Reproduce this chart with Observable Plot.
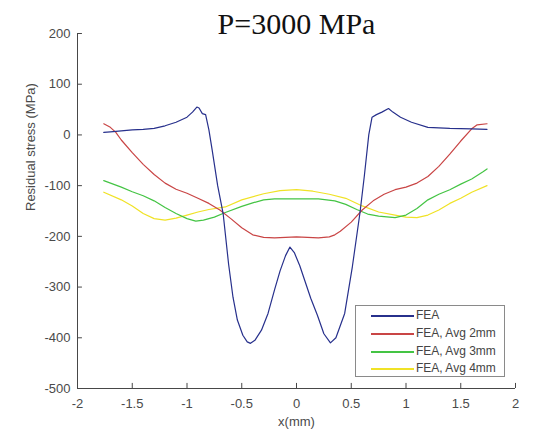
<!DOCTYPE html>
<html><head><meta charset="utf-8">
<script src="https://cdn.jsdelivr.net/npm/d3@7"></script>
<script src="https://cdn.jsdelivr.net/npm/@observablehq/plot@0.6"></script>
<style>
body{margin:0;background:#fff;}
#wrap{position:relative;width:535px;height:433px;overflow:hidden;}
#legend{position:absolute;left:355px;top:305px;width:148px;height:70px;border:1px solid #8a8a8a;background:#fff;font-family:"Liberation Sans",Arial,sans-serif;font-size:12px;color:#444;}
.row{position:absolute;left:0;height:14px;width:146px;}
.sw{position:absolute;left:15px;width:43px;top:7px;height:1.5px;}
.lb{position:absolute;left:60px;top:0;white-space:nowrap;line-height:14px;}
</style>
</head><body><div id="wrap"></div>
<script>
const title = "P=3000 MPa";
const xLabel = "x(mm)";
const yLabel = "Residual stress (MPa)";
const xTicks = [-2, -1.5, -1, -0.5, 0, 0.5, 1, 1.5, 2];
const yTicks = [-500, -400, -300, -200, -100, 0, 100, 200];
const seriesNames = ["FEA", "FEA, Avg 2mm", "FEA, Avg 3mm", "FEA, Avg 4mm"];
const seriesColors = ["#27308c", "#c94545", "#44c444", "#f0e226"];

const feaX = [-1.76,-1.7,-1.6,-1.5,-1.4,-1.3,-1.2,-1.1,-1.0,-0.95,-0.91,-0.89,-0.86,-0.83,-0.8,-0.77,-0.72,-0.67,-0.62,-0.58,-0.54,-0.49,-0.45,-0.42,-0.38,-0.32,-0.26,-0.2,-0.15,-0.1,-0.06,-0.02,0.03,0.08,0.13,0.19,0.25,0.31,0.36,0.44,0.51,0.58,0.62,0.66,0.69,0.73,0.78,0.84,0.88,0.95,1.05,1.2,1.4,1.6,1.74];
const feaY = [5,6,8,10,11,13,18,25,35,45,55,53,42,40,10,-30,-100,-155,-255,-320,-365,-395,-408,-411,-405,-385,-352,-305,-268,-238,-221,-232,-258,-290,-322,-355,-392,-410,-400,-352,-260,-153,-80,0,35,40,45,52,45,35,25,15,13,12,11];

const avg2X = [-1.76,-1.7,-1.65,-1.6,-1.5,-1.4,-1.3,-1.2,-1.1,-1.0,-0.9,-0.8,-0.7,-0.6,-0.5,-0.4,-0.3,-0.2,-0.1,0.0,0.1,0.2,0.3,0.35,0.4,0.5,0.6,0.7,0.8,0.9,1.0,1.1,1.2,1.3,1.4,1.5,1.6,1.65,1.74];
const avg2Y = [22,15,5,-10,-35,-58,-78,-95,-107,-115,-125,-135,-148,-165,-183,-197,-202,-203,-202,-201,-202,-203,-201,-197,-190,-172,-148,-130,-117,-108,-103,-95,-82,-62,-38,-12,12,20,22];

const avg3X = [-1.76,-1.6,-1.5,-1.4,-1.3,-1.2,-1.1,-1.0,-0.92,-0.85,-0.75,-0.65,-0.5,-0.4,-0.3,-0.2,0.0,0.2,0.35,0.45,0.55,0.65,0.75,0.9,1.0,1.1,1.2,1.3,1.4,1.5,1.6,1.7,1.74];
const avg3Y = [-90,-103,-112,-120,-130,-143,-155,-165,-170,-168,-162,-153,-141,-134,-128,-126,-126,-126,-130,-137,-147,-156,-160,-163,-158,-145,-128,-117,-108,-97,-87,-73,-67];

const avg4X = [-1.76,-1.6,-1.5,-1.4,-1.3,-1.2,-1.1,-1.0,-0.9,-0.8,-0.65,-0.5,-0.3,-0.15,0.0,0.15,0.3,0.45,0.6,0.75,0.9,1.0,1.1,1.2,1.3,1.4,1.5,1.6,1.74];
const avg4Y = [-113,-128,-140,-155,-165,-168,-164,-158,-152,-147,-142,-128,-116,-110,-108,-111,-117,-125,-140,-152,-158,-162,-163,-158,-148,-135,-125,-113,-100];

const seriesXs = [feaX, avg2X, avg3X, avg4X];
const seriesYs = [feaY, avg2Y, avg3Y, avg4Y];
const data = [];
seriesNames.forEach((name, k) => {
  seriesXs[k].forEach((x, i) => data.push({series: name, x, y: seriesYs[k][i]}));
});

const axisColor = "#474747";
const fmt = d => String(d);

const chart = Plot.plot({
  width: 535, height: 433,
  marginLeft: 77, marginRight: 20, marginTop: 33, marginBottom: 45,
  style: {fontFamily: "'Liberation Sans', Arial, sans-serif", fontSize: "13px", color: "#4a4a4a", background: "#fff"},
  x: {domain: [-2, 2]},
  y: {domain: [-500, 200]},
  color: {domain: seriesNames, range: seriesColors},
  marks: [
    Plot.ruleX([-2], {stroke: axisColor}),
    Plot.ruleY([-500], {stroke: axisColor}),
    Plot.axisX(xTicks, {anchor: "bottom", tickSize: 0, tickPadding: 10, tickFormat: fmt, label: null}),
    Plot.axisY(yTicks, {anchor: "left", tickSize: 0, tickPadding: 7, tickFormat: fmt, label: null}),
    Plot.ruleX(xTicks, {x: d => d, y1: -500, y2: -490, stroke: axisColor}),
    Plot.ruleY(yTicks, {y: d => d, x1: -2, x2: -1.955, stroke: axisColor}),
    ...seriesNames.slice().reverse().map(name =>
      Plot.line(data.filter(d => d.series === name), {x: "x", y: "y", stroke: "series", strokeWidth: 1.2, curve: "linear"})
    ),
    Plot.text([title], {frameAnchor: "top", lineAnchor: "bottom", dy: 0, fontSize: 30, fontFamily: "'Liberation Serif', 'Times New Roman', serif", fill: "#111"}),
    Plot.text([yLabel], {frameAnchor: "left", rotate: -90, dx: -47, fontSize: 13, fill: "#4a4a4a"}),
    Plot.text([xLabel], {frameAnchor: "bottom", dy: 37, fontSize: 13, fill: "#4a4a4a"})
  ]
});
const wrap = document.getElementById("wrap");
wrap.appendChild(chart);

const legend = document.createElement("div");
legend.id = "legend";
const rowTops = [2, 20, 38, 55];
seriesNames.forEach((name, k) => {
  const row = document.createElement("div");
  row.className = "row";
  row.style.top = rowTops[k] + "px";
  const sw = document.createElement("div");
  sw.className = "sw";
  sw.style.background = seriesColors[k];
  const lb = document.createElement("div");
  lb.className = "lb";
  lb.textContent = name;
  row.appendChild(sw); row.appendChild(lb);
  legend.appendChild(row);
});
wrap.appendChild(legend);
</script></body></html>
